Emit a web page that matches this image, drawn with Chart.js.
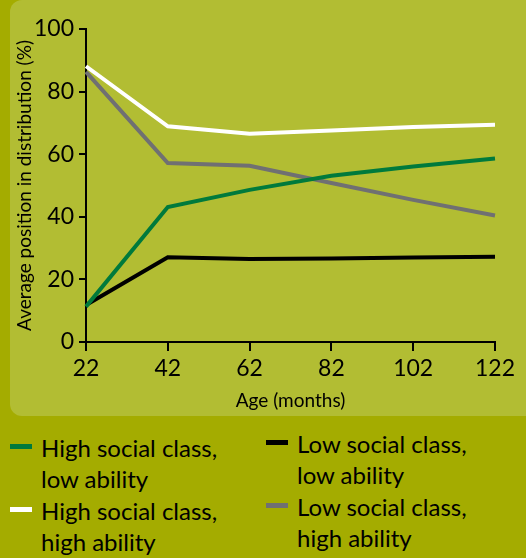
<!DOCTYPE html>
<html>
<head>
<meta charset="utf-8">
<script src="https://cdn.jsdelivr.net/npm/chart.js@4.4.0/dist/chart.umd.min.js"></script>
<style>
  html, body { margin: 0; padding: 0; }
  body { width: 526px; height: 558px; background: #a4ac00; position: relative; overflow: hidden; font-family: Lato, sans-serif; }
  #panel { position: absolute; left: 10px; top: 0; width: 540px; height: 416px; background: #b2bd33; border-radius: 12px; }
  #wrap { position: absolute; left: 0; top: 0; width: 526px; height: 416px; }
  .item { position: absolute; font-size: 24px; line-height: 31px; color: #000; white-space: pre-line; }
  .mark { position: absolute; width: 22px; height: 5px; }
</style>
</head>
<body>
<div id="panel"></div>
<div id="wrap"><canvas id="chart" width="526" height="416"></canvas></div>
<div id="legend"></div>
<script>
// Data
const ages = ['22', '42', '62', '82', '102', '122'];
const seriesNames = ['High social class,\nlow ability', 'High social class,\nhigh ability', 'Low social class,\nlow ability', 'Low social class,\nhigh ability'];
const highClassLowAbility = [11.3, 43.1, 48.6, 53.1, 56.1, 58.6];
const highClassHighAbility = [88.1, 68.9, 66.5, 67.6, 68.7, 69.4];
const lowClassLowAbility = [11.8, 27.1, 26.5, 26.7, 27.0, 27.2];
const lowClassHighAbility = [86.3, 57.2, 56.3, 50.8, 45.4, 40.4];
const yTicks = [0, 20, 40, 60, 80, 100];

const colors = ['#007a3c', '#ffffff', '#000000', '#707072'];
const values = [highClassLowAbility, highClassHighAbility, lowClassLowAbility, lowClassHighAbility];

const ctx = document.getElementById('chart').getContext('2d');
const chart = new Chart(ctx, {
  type: 'line',
  data: {
    labels: ages,
    datasets: values.map((v, i) => ({
      label: seriesNames[i],
      data: v,
      borderColor: colors[i],
      borderWidth: 4,
      pointRadius: 0,
      tension: 0,
      borderJoinStyle: 'miter',
      fill: false
    }))
  },
  options: {
    responsive: false,
    animation: false,
    layout: { padding: { left: 0, top: 29, right: 31, bottom: 0 } },
    plugins: { legend: { display: false }, tooltip: { enabled: false } },
    scales: {
      x: {
        offset: false,
        afterFit: s => { s.height = 74; },
        grid: { drawOnChartArea: false, color: '#000', lineWidth: 2, tickLength: 9 },
        border: { color: '#000', width: 2 },
        ticks: { color: '#000', font: { family: 'Lato', size: 23 }, padding: 4, maxRotation: 0 },
        title: { display: true, text: 'Age (months)', color: '#000', font: { family: 'Lato', size: 19 }, padding: { top: 0, bottom: 4 } }
      },
      y: {
        min: 0,
        max: 100,
        afterFit: s => { s.width = 86; },
        afterBuildTicks: s => { s.ticks = yTicks.map(v => ({ value: v })); },
        grid: { drawOnChartArea: false, color: '#000', lineWidth: 2, tickLength: 7 },
        border: { color: '#000', width: 2 },
        ticks: { color: '#000', font: { family: 'Lato', size: 23 }, padding: 5 },
        title: { display: true, text: 'Average position in distribution (%)', color: '#000', font: { family: 'Lato', size: 19 }, padding: { top: 13, bottom: 0 } }
      }
    }
  }
});

// Legend below the panel
const legend = document.getElementById('legend');
const spots = [[41, 432], [41, 495], [297, 428], [297, 491]];
chart.data.datasets.forEach((ds, i) => {
  const [x, y] = spots[i];
  const mark = document.createElement('div');
  mark.className = 'mark';
  mark.style.left = (x - 31) + 'px';
  mark.style.top = (y + 12) + 'px';
  mark.style.background = ds.borderColor;
  legend.appendChild(mark);
  const txt = document.createElement('div');
  txt.className = 'item';
  txt.style.left = x + 'px';
  txt.style.top = y + 'px';
  txt.textContent = ds.label;
  legend.appendChild(txt);
});
</script>
</body>
</html>
